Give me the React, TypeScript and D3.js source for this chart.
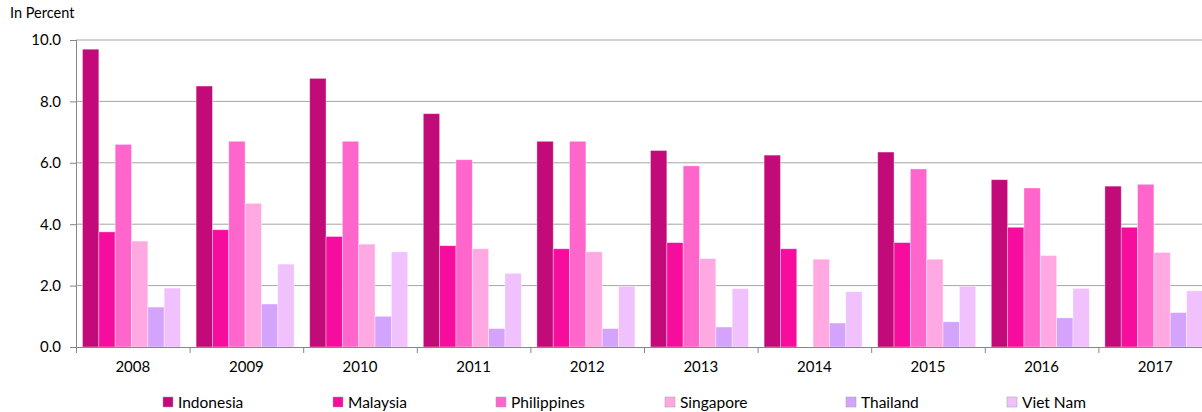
import { useEffect, useRef } from "react";
import * as d3 from "d3";

const years = ["2008", "2009", "2010", "2011", "2012", "2013", "2014", "2015", "2016", "2017"];
const countries = ["Indonesia", "Malaysia", "Philippines", "Singapore", "Thailand", "Viet Nam"];
const colors = ["#c20a78", "#f70d9e", "#ff66cc", "#ffa8e2", "#d4a3fc", "#f0c1fd"];

const indonesia = [9.7, 8.5, 8.75, 7.6, 6.7, 6.4, 6.25, 6.35, 5.45, 5.24];
const malaysia = [3.75, 3.82, 3.6, 3.3, 3.2, 3.4, 3.2, 3.4, 3.9, 3.9];
const philippines = [6.6, 6.7, 6.7, 6.1, 6.7, 5.9, null, 5.8, 5.18, 5.3];
const singapore = [3.45, 4.68, 3.35, 3.2, 3.1, 2.88, 2.86, 2.86, 2.98, 3.08];
const thailand = [1.3, 1.4, 1.0, 0.6, 0.6, 0.65, 0.78, 0.82, 0.95, 1.12];
const vietNam = [1.92, 2.7, 3.1, 2.4, 1.98, 1.9, 1.8, 1.98, 1.91, 1.83];

const series = [indonesia, malaysia, philippines, singapore, thailand, vietNam];
const yTicks = [0, 2, 4, 6, 8, 10];

const FONT = "Lato, 'Open Sans', sans-serif";

export default function App() {
  const svgRef = useRef<SVGSVGElement>(null);

  useEffect(() => {
    if (!svgRef.current) return;
    const svg = d3.select(svgRef.current);
    svg.selectAll("*").remove();

    const width = 1202;
    const height = 412;
    const left = 76;
    const top = 40;
    const bottom = 347;

    const x0 = d3.scaleBand().domain(years).range([left, left + 113.6 * years.length]);
    const x1 = d3
      .scaleBand()
      .domain(countries)
      .range([6.5, 104.5]);
    const y = d3.scaleLinear().domain([0, 10]).range([bottom, top]);

    svg.attr("width", width).attr("height", height);

    // Grille horizontale
    svg
      .append("g")
      .selectAll("line")
      .data(yTicks.filter((t) => t > 0))
      .enter()
      .append("line")
      .attr("x1", left)
      .attr("x2", width)
      .attr("y1", (d) => y(d))
      .attr("y2", (d) => y(d))
      .style("stroke", "#a6a6a6")
      .style("stroke-width", 1);

    // Barres
    const rows = years.map((yr, i) => ({
      year: yr,
      values: countries.map((c, j) => ({ country: c, value: series[j][i], color: colors[j] })),
    }));

    const groups = svg
      .append("g")
      .selectAll("g")
      .data(rows)
      .enter()
      .append("g")
      .attr("transform", (d) => `translate(${x0(d.year)},0)`);

    groups
      .selectAll("rect")
      .data((d) => d.values.filter((v) => v.value !== null))
      .enter()
      .append("rect")
      .attr("x", (d) => x1(d.country) || 0)
      .attr("width", x1.bandwidth())
      .attr("y", (d) => y(d.value as number))
      .attr("height", (d) => bottom - y(d.value as number))
      .attr("fill", (d) => d.color)
      .style("stroke", "#ffffff")
      .style("stroke-opacity", 0.45)
      .style("stroke-width", 0.8);

    // Axe Y
    const yAxis = svg
      .append("g")
      .attr("transform", `translate(${left},0)`)
      .call(
        d3
          .axisLeft(y)
          .tickValues(yTicks)
          .tickSize(6)
          .tickPadding(9)
          .tickFormat(d3.format(".1f"))
      );
    yAxis.select(".domain").attr("d", `M0.5,${top}V${bottom}`);
    yAxis.selectAll(".domain, .tick line").style("stroke", "#868686");
    yAxis
      .selectAll("text")
      .style("fill", "#000")
      .style("font-size", "15px")
      .style("font-family", FONT);

    // Axe X
    const xAxis = svg
      .append("g")
      .attr("transform", `translate(0,${bottom})`)
      .call(d3.axisBottom(x0).tickSize(0).tickPadding(14));
    xAxis.select(".domain").attr("d", `M${left},0.5H${width}`).style("stroke", "#868686");
    xAxis
      .selectAll("text")
      .style("fill", "#000")
      .style("font-size", "15px")
      .style("font-family", FONT);

    // Tirets entre catégories
    svg
      .append("g")
      .selectAll("line")
      .data(years)
      .enter()
      .append("line")
      .attr("x1", (d) => (x0(d) || 0) + 0.5)
      .attr("x2", (d) => (x0(d) || 0) + 0.5)
      .attr("y1", bottom)
      .attr("y2", bottom + 6)
      .style("stroke", "#868686");

    // Titre de l'axe
    svg
      .append("text")
      .attr("x", 10)
      .attr("y", 18)
      .style("font-size", "14.5px")
      .style("font-family", FONT)
      .text("In Percent");

    // Légende
    const legendX = [163, 333, 496, 665, 846, 1007];
    const legend = svg
      .append("g")
      .selectAll("g")
      .data(countries)
      .enter()
      .append("g")
      .attr("transform", (_, i) => `translate(${legendX[i]},397)`);

    legend
      .append("rect")
      .attr("width", 10)
      .attr("height", 10)
      .attr("fill", (_, i) => colors[i])
      .style("stroke", "#a0a0a0")
      .style("stroke-width", 0.5);

    legend
      .append("text")
      .attr("x", 15)
      .attr("y", 10.5)
      .style("font-size", "15.5px")
      .style("font-family", FONT)
      .text((d) => d);
  }, []);

  return (
    <div style={{ position: "absolute", left: 0, top: 0 }}>
      <svg ref={svgRef} style={{ display: "block" }} />
    </div>
  );
}
